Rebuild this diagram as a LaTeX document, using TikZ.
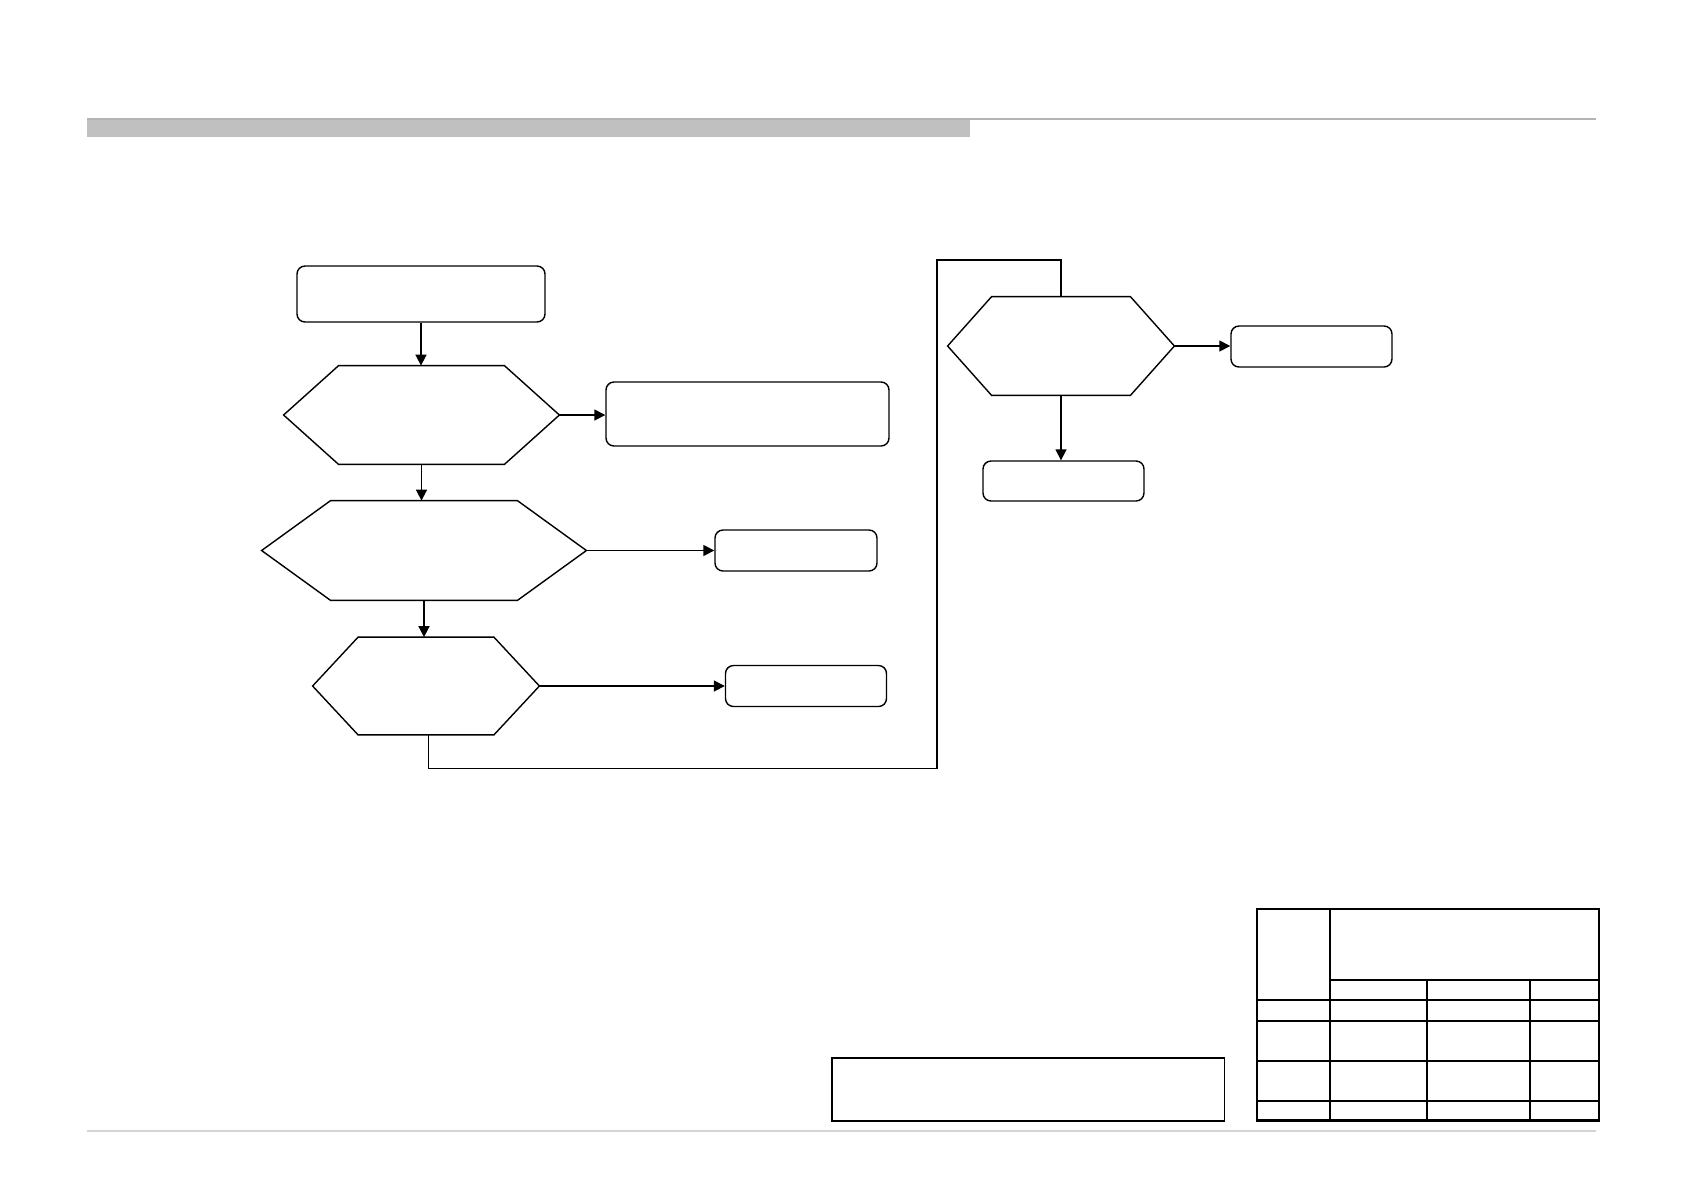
\documentclass[tikz,border=0pt]{standalone}
\usetikzlibrary{arrows.meta}
\definecolor{barg}{HTML}{C0C0C0}
\definecolor{lineg}{HTML}{B4B4B4}
\definecolor{footg}{HTML}{D4D4D4}
\tikzset{
  box/.style={draw, rounded corners=4pt, line width=0.7pt, inner sep=0pt},
  hexbox/.style={draw=none, inner sep=0pt, rectangle},
  hexline/.style={line width=0.7pt, line join=miter},
  arr/.style={line width=0.8pt, -{Triangle[length=5.5pt,width=5.5pt]}},
  link/.style={line width=0.9pt},
  tabline/.style={line width=1.1pt},
}
\newcommand\drawhex[2]{\draw[hexline] (#1.west) -- ([xshift=#2]#1.north west) -- ([xshift=-#2]#1.north east) -- (#1.east) -- ([xshift=-#2]#1.south east) -- ([xshift=#2]#1.south west) -- cycle;}
\begin{document}
\begin{tikzpicture}[x=0.5pt,y=-0.5pt]
\useasboundingbox (0,0) rectangle (1683,1191);
% header bar
\fill[barg] (87,119) rectangle (970,137);
\draw[lineg, line width=0.6pt] (87,119) -- (1596,119);
% footer line
\draw[footg, line width=0.6pt] (87,1131) -- (1596,1131);

% nodes
\node[box, minimum width=124pt, minimum height=28pt] (start) at (421,294) {};
\node[hexbox, minimum width=137.5pt, minimum height=49pt] (h1) at (421.5,415) {};
\drawhex{h1}{27.5pt}
\node[box, minimum width=141.5pt, minimum height=32pt] (b2) at (747.5,414) {};
\node[hexbox, minimum width=162pt, minimum height=49.5pt] (h2) at (424,550.5) {};
\drawhex{h2}{34.5pt}
\node[box, minimum width=81pt, minimum height=20.5pt] (b3) at (796,550.5) {};
\node[hexbox, minimum width=113pt, minimum height=48.5pt] (h3) at (426,686) {};
\drawhex{h3}{22.75pt}
\node[box, minimum width=80.5pt, minimum height=20.5pt] (b4) at (806,686) {};
\node[hexbox, minimum width=113pt, minimum height=49pt] (h4) at (1061,346) {};
\drawhex{h4}{22pt}
\node[box, minimum width=80.5pt, minimum height=20.5pt] (b5) at (1311.5,346.5) {};
\node[box, minimum width=80.5pt, minimum height=20pt] (b6) at (1063.5,481) {};

% connectors
\draw[arr] (start.south) -- (start.south |- h1.north);
\draw[arr] (h1.east) -- (b2.west |- h1.east);
\draw[arr] (h1.south) -- (h1.south |- h2.north);
\draw[arr] (h2.east) -- (b3.west |- h2.east);
\draw[arr] (h2.south) -- (h2.south |- h3.north);
\draw[arr] (h3.east) -- (b4.west);
\draw[arr] (h4.east) -- (b5.west |- h4.east);
\draw[arr] (h4.south) -- (h4.south |- b6.north);

\coordinate (c0) at (428,768.5);
\coordinate (c1) at (937,768.5);
\coordinate (c2) at (937,260);
\coordinate (c3) at (1061,260);
\draw[line width=0.45pt] (h3.south -| c0) -- (c0);
\draw[link] (c0) -- (c1) -- (c2) -- (c3) -- (h4.north);

% bottom box
\node[draw, line width=0.6pt, minimum width=196.3pt, minimum height=31.25pt, inner sep=0pt] (note) at (1028.3,1089.25) {};
\draw[line width=1.3pt] (note.south west) -- (note.south east);

% table
\draw[tabline] (1257,909) rectangle (1599,1120.5);
\draw[tabline] (1330,909) -- (1330,1120.5);
\draw[tabline] (1330,980) -- (1599,980);
\draw[tabline] (1426.7,980) -- (1426.7,1120.5);
\draw[tabline] (1530,980) -- (1530,1120.5);
\foreach \yy in {999.7,1020.7,1061,1101} {\draw[tabline] (1257,\yy) -- (1599,\yy);}
\end{tikzpicture}
\end{document}
